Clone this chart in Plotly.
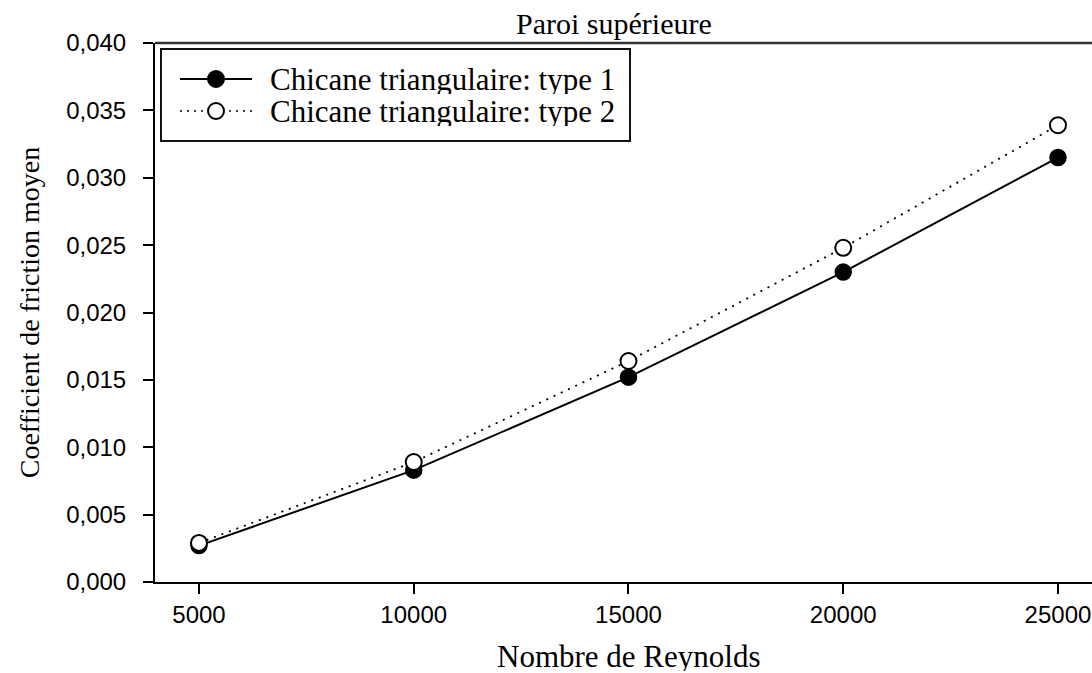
import plotly.graph_objects as go

# Data: mean friction coefficient on the upper wall vs Reynolds number
reynolds = [5000, 10000, 15000, 20000, 25000]
cf_type1 = [0.0027, 0.0083, 0.0152, 0.0230, 0.0315]
cf_type2 = [0.0029, 0.0089, 0.0164, 0.0248, 0.0339]
series_names = ["Chicane triangulaire: type 1", "Chicane triangulaire: type 2"]

x_tickvals = [5000, 10000, 15000, 20000, 25000]
x_ticktext = ["5000", "10000", "15000", "20000", "25000"]
y_tickvals = [0.000, 0.005, 0.010, 0.015, 0.020, 0.025, 0.030, 0.035, 0.040]
y_ticktext = ["0,000", "0,005", "0,010", "0,015", "0,020", "0,025", "0,030", "0,035", "0,040"]

W, H = 1092, 673
L, R, T, B = 155, 0, 43, 91
plot_w = W - L - R
plot_h = H - T - B


def px_x(px):
    return (px - L) / plot_w


def px_y(py):
    return (H - B - py) / plot_h


serif = "Liberation Serif, Times New Roman, serif"
sans = "Liberation Sans, Arial, sans-serif"

fig = go.Figure()
fig.add_trace(go.Scatter(
    x=reynolds, y=cf_type1, mode="lines+markers", name=series_names[0],
    line=dict(color="black", width=2),
    marker=dict(symbol="circle", size=16, color="black", line=dict(color="black", width=1.5)),
    showlegend=False,
))
fig.add_trace(go.Scatter(
    x=reynolds, y=cf_type2, mode="lines+markers", name=series_names[1],
    line=dict(color="black", width=1.8, dash="2px,6px"),
    marker=dict(symbol="circle", size=16, color="white", line=dict(color="black", width=2)),
    showlegend=False,
))

shapes = []
annotations = []

# top frame line
shapes.append(dict(type="line", xref="paper", yref="paper", x0=0, x1=1, y0=1, y1=1,
                   line=dict(color="#333", width=2.5)))

# legend box
shapes.append(dict(type="rect", xref="paper", yref="paper",
                   x0=px_x(161), x1=px_x(630), y0=px_y(141), y1=px_y(49),
                   line=dict(color="#111", width=2), fillcolor="white"))

legend_rows = [
    (px_y(79), dict(color="black", width=2, dash="solid"), "black"),
    (px_y(111), dict(color="black", width=1.5, dash="2px,5px"), "white"),
]
for (yy, lstyle, fill), name in zip(legend_rows, series_names):
    shapes.append(dict(type="line", xref="paper", yref="paper",
                       x0=px_x(180), x1=px_x(252), y0=yy, y1=yy, line=lstyle))
    shapes.append(dict(type="circle", xref="paper", yref="paper",
                       xsizemode="pixel", ysizemode="pixel",
                       xanchor=px_x(216), yanchor=yy, x0=-8, x1=8, y0=-8, y1=8,
                       fillcolor=fill, line=dict(color="black", width=2)))
    annotations.append(dict(xref="paper", yref="paper", x=px_x(268), y=yy,
                            xanchor="left", yanchor="middle", showarrow=False,
                            height=30, valign="middle",
                            text=name, font=dict(family=serif, size=31, color="black")))

# chart title
annotations.append(dict(xref="paper", yref="paper", x=px_x(614), y=px_y(23),
                        xanchor="center", yanchor="middle", showarrow=False,
                        text="Paroi supérieure", font=dict(family=serif, size=30, color="black")))

# x-axis title
annotations.append(dict(xref="paper", yref="paper", x=px_x(628), y=px_y(656),
                        xanchor="center", yanchor="middle", showarrow=False,
                        height=30, valign="middle",
                        text="Nombre de Reynolds", font=dict(family=serif, size=31, color="black")))

fig.update_layout(
    width=W, height=H,
    margin=dict(l=L, r=R, t=T, b=B, pad=0),
    paper_bgcolor="white", plot_bgcolor="white",
    shapes=shapes, annotations=annotations,
    xaxis=dict(
        range=[3976, 25792], tickvals=x_tickvals, ticktext=x_ticktext,
        showgrid=False, zeroline=False, showline=True, linecolor="black", linewidth=2,
        ticks="outside", ticklen=10, tickwidth=2, tickcolor="black",
        tickfont=dict(family=sans, size=24, color="black"),
    ),
    yaxis=dict(
        range=[0, 0.040], tickvals=y_tickvals, ticktext=y_ticktext,
        showgrid=False, zeroline=False, showline=True, linecolor="black", linewidth=2,
        ticks="outside", ticklen=10, tickwidth=2, tickcolor="black", ticklabelstandoff=12,
        tickfont=dict(family=sans, size=24, color="black"),
        title=dict(text="Coefficient de friction moyen", font=dict(family=serif, size=28, color="black"), standoff=18),
    ),
)

fig.write_html("out.html")
